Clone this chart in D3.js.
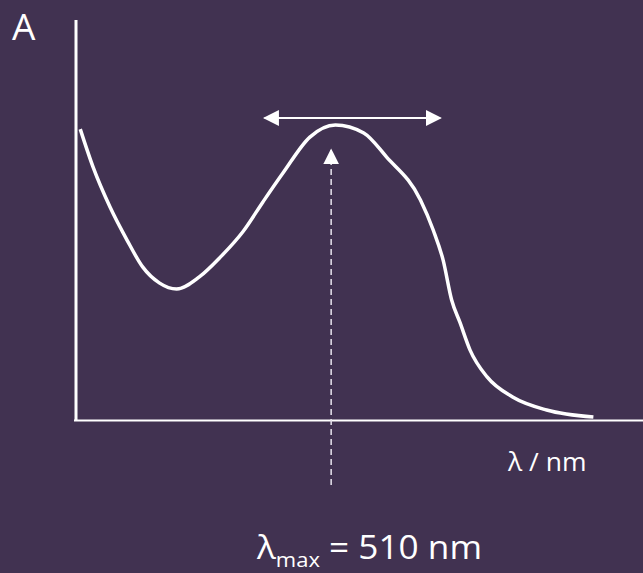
<!DOCTYPE html>
<html><head><meta charset="utf-8">
<script src="https://cdn.jsdelivr.net/npm/d3@7"></script>
<style>html,body{margin:0;padding:0;background:#413251;overflow:hidden}</style>
</head><body>
<script>
// Absorption spectrum (wavelength in nm, absorbance relative to peak)
const wavelengths = [333, 342, 354, 366, 377, 389, 401, 417, 432, 448, 462, 476, 495, 513, 533, 549, 573, 582, 589, 595, 601, 608, 620, 638, 662, 695];
const absorbance  = [0.986, 0.858, 0.722, 0.610, 0.519, 0.464, 0.444, 0.485, 0.553, 0.640, 0.740, 0.837, 0.959, 1.0, 0.973, 0.892, 0.746, 0.644, 0.542, 0.407, 0.329, 0.237, 0.146, 0.078, 0.034, 0.010];
const lambdaMax = 510;
const bandEdges = [463, 587]; // double arrow span
const labels = {y: "A", x: "λ / nm", max: "= 510 nm"};

const W = 643, H = 573;
const svg = d3.select("body").append("svg").attr("width", W).attr("height", H);
svg.append("rect").attr("width", W).attr("height", H).attr("fill", "#413251");

const x = d3.scaleLinear().domain([330, 730]).range([76, 643]);
const y = d3.scaleLinear().domain([0, 1]).range([420, 125]);

const defs = svg.append("defs");
defs.append("marker").attr("id", "ah").attr("viewBox", "0 0 10 10").attr("refX", 9).attr("refY", 5)
  .attr("markerWidth", 16).attr("markerHeight", 16).attr("markerUnits", "userSpaceOnUse").attr("orient", "auto-start-reverse")
  .append("path").attr("d", "M0,0 L10,5 L0,10 Z").attr("fill", "#fff");

// axes
svg.append("line").attr("x1", 76).attr("x2", 76).attr("y1", 20).attr("y2", 421)
  .attr("stroke", "#fff").attr("stroke-width", 3);
svg.append("line").attr("x1", 74).attr("x2", 643).attr("y1", 420.5).attr("y2", 420.5)
  .attr("stroke", "#fff").attr("stroke-width", 2);

// curve
const data = wavelengths.map((w, i) => [w, absorbance[i]]);
svg.append("path").datum(data)
  .attr("d", d3.line().x(d => x(d[0])).y(d => y(d[1])).curve(d3.curveMonotoneX))
  .attr("fill", "none").attr("stroke", "#fff").attr("stroke-width", 3.5).attr("stroke-linecap", "butt");

// double arrow
svg.append("line").attr("x1", x(bandEdges[0])).attr("x2", x(bandEdges[1])).attr("y1", 118).attr("y2", 118)
  .attr("stroke", "#fff").attr("stroke-width", 2)
  .attr("marker-start", "url(#ah)").attr("marker-end", "url(#ah)");

// dashed lambda max line
svg.append("line").attr("x1", x(lambdaMax)).attr("x2", x(lambdaMax)).attr("y1", 485).attr("y2", 150)
  .attr("stroke", "#e8e4ee").attr("stroke-width", 1.5).attr("stroke-dasharray", "6,4")
  .attr("marker-end", "url(#ah)");

// text
const font = "'Open Sans', sans-serif";
svg.append("text").attr("x", 12).attr("y", 40).text(labels.y)
  .attr("fill", "#fff").attr("font-family", font).attr("font-size", 37);

svg.append("text").attr("transform", "translate(508,471) scale(1.06,1)")
  .attr("fill", "#fff").attr("font-family", font).attr("font-size", 25).text(labels.x);

const ml = svg.append("text").attr("transform", "translate(257,559) scale(1.1,1)").attr("fill", "#fff")
  .attr("font-family", font).attr("font-size", 32);
ml.append("tspan").text("λ");
ml.append("tspan").attr("font-size", 20).attr("dy", 8).text("max");
ml.append("tspan").attr("dy", -8).text(" " + labels.max);
</script>
</body></html>
